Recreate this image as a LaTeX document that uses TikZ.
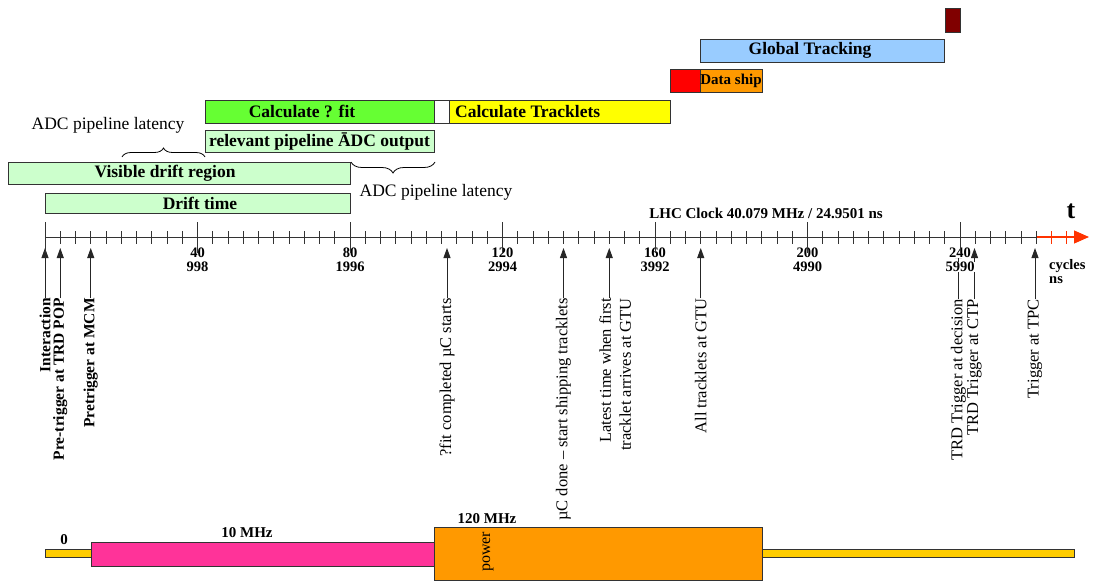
\documentclass[tikz,border=0pt]{standalone}
\usepackage{fontspec}
\setmainfont{Liberation Serif}
\usetikzlibrary{arrows.meta,decorations.pathreplacing}
\definecolor{lgreen}{HTML}{CCFFCC}
\definecolor{fgreen}{HTML}{66FF33}
\definecolor{tyellow}{HTML}{FFFF00}
\definecolor{tred}{HTML}{FF0000}
\definecolor{torange}{HTML}{FF9900}
\definecolor{tblue}{HTML}{99CCFF}
\definecolor{tdark}{HTML}{800000}
\definecolor{tpink}{HTML}{FF3399}
\definecolor{tgold}{HTML}{FFCC00}
\definecolor{edgegray}{HTML}{333333}
\definecolor{axred}{HTML}{FF3300}
\newcommand\barbox[6]{\node[bar,fill=#6,minimum width={#4-#2},minimum height={#5-#3}] (#1) at (#2,#3) {};}
\newcommand\fs[1]{\fontsize{#1}{#1}\selectfont}
\begin{document}
\begin{tikzpicture}[x=1pt,y=-1pt,
 bar/.style={draw=edgegray,line width=0.8pt,inner sep=0pt,outer sep=0pt,anchor=north west},
 blbl/.style={inner sep=0pt,font=\fs{17.5}\bfseries},
 vlblb/.style={rotate=90,anchor=east,inner sep=0pt,font=\fs{15.5}\bfseries},
 vlbl/.style={rotate=90,anchor=east,inner sep=0pt,font=\fs{16.5}},
 evt/.style={-{Triangle[length=10pt,width=7pt]},line width=0.9pt,draw=black!85,fill=black!85},
 tck/.style={line width=0.8pt,draw=black!80},
 tnum/.style={inner sep=0pt,fill=white,anchor=base,text height=10pt,text depth=0pt,font=\fs{14.5}\bfseries},
 lat/.style={inner sep=0pt,font=\fs{17.5}},
 brc/.style={decorate,decoration={brace,amplitude=9pt},line width=0.8pt},
 smallb/.style={inner sep=0pt,font=\fs{15}\bfseries}
]
\useasboundingbox (0,0) rectangle (1096,581);

% ---- activity bars
\barbox{drift}{45}{193}{350}{213}{lgreen}
\barbox{visible}{8}{162}{350}{184}{lgreen}
\barbox{relevant}{205}{130}{434}{152}{lgreen}
\barbox{calcfit}{205}{100}{434}{123}{fgreen}
\barbox{gap}{434}{100}{449}{123}{white}
\barbox{tracklets}{449}{100}{670}{123}{tyellow}
\barbox{redbox}{670}{69}{700}{92}{tred}
\barbox{dataship}{700}{69}{762}{92}{torange}
\barbox{global}{700}{39}{944}{62}{tblue}
\barbox{dark}{945}{8}{960}{32}{tdark}

\node[blbl] (tDrift) at (200,203.5) {Drift time};
\node[blbl] (tVis) at (165,173.5) {Visible drift region};
\node[blbl] (tRel) at (319.5,141.5) {relevant pipeline ĀDC output};
\node[blbl] (tFit) at (302,111.5) {Calculate ? fit};
\node[blbl,anchor=west] (tTrk) at (455,111.5) {Calculate Tracklets};
\node[smallb] (tShip) at (731,80.5) {Data ship};
\node[blbl] (tGlob) at (810,50.5) {Global Tracking};

% ---- braces
\coordinate (b1a) at (122,157);
\coordinate (b1b) at (205,157);
\draw[brc] (b1a) -- (b1b);
\node[lat] (lat1) at (108,125) {ADC pipeline latency};
\coordinate (b2a) at (435,162);
\coordinate (b2b) at (351,162);
\draw[brc,decoration={amplitude=11pt}] (b2a) -- (b2b);
\node[lat] (lat2) at (436,192) {ADC pipeline latency};

% ---- time axis
\coordinate (ax0) at (45,237);
\coordinate (axr) at (1036.25,237);
\coordinate (axtip) at (1089,237);
\draw[line width=0.9pt,draw=black!80] (ax0) -- (axr);
\draw[line width=1.2pt,axred,-{Triangle[length=15pt,width=13pt]}] (axr) -- (axtip);
\foreach \c in {4,8,...,260}{\pgfmathsetmacro\xx{45+\c*3.8125}\draw[tck] (\xx,231)--(\xx,244);}
\foreach \c in {264,268}{\pgfmathsetmacro\xx{45+\c*3.8125}\draw[tck,draw=axred] (\xx,231)--(\xx,244);}

% ---- events
\node[vlblb] (eInt) at (45,298) {Interaction};
\coordinate (pInt) at (45,248);
\draw[evt] (eInt.east) -- (pInt);
\node[vlblb] (ePT) at (60.25,298) {Pre-trigger at TRD POP};
\coordinate (pPT) at (60.25,248);
\draw[evt] (ePT.east) -- (pPT);
\node[vlblb] (eMCM) at (90.75,298) {Pretrigger at MCM};
\coordinate (pMCM) at (90.75,248);
\draw[evt] (eMCM.east) -- (pMCM);
\node[vlbl] (eFit) at (447,298) {?fit completed µC starts};
\coordinate (pFit) at (447,248);
\draw[evt] (eFit.east) -- (pFit);
\node[vlbl] (eDone) at (563.5,298) {µC done – start shipping tracklets};
\coordinate (pDone) at (563.5,248);
\draw[evt] (eDone.east) -- (pDone);
\node[vlbl,anchor=north east,align=right,font=\fontsize{16.5}{20}\selectfont] (eLate) at (599,298) {Latest time when first\\tracklet arrives at GTU};
\coordinate (qLate) at (609.25,298);
\coordinate (pLate) at (609.25,248);
\draw[evt] (qLate) -- (pLate);
\node[vlbl] (eAll) at (700.75,298) {All tracklets at GTU};
\coordinate (pAll) at (700.75,248);
\draw[evt] (eAll.east) -- (pAll);
\node[vlbl] (eDec) at (958.5,299) {TRD Trigger at decision};
\coordinate (pDec) at (958.5,248);
\draw[evt] (eDec.east) -- (pDec);
\node[vlbl] (eCTP) at (974.5,299) {TRD Trigger at CTP};
\coordinate (pCTP) at (974.5,248);
\draw[evt] (eCTP.east) -- (pCTP);
\node[vlbl] (eTPC) at (1035,299) {Trigger at TPC};
\coordinate (pTPC) at (1035,248);
\draw[evt] (eTPC.east) -- (pTPC);

% ---- axis labels
\foreach \c/\ns in {40/998,80/1996,120/2994,160/3992,200/4990,240/5990}{%
  \pgfmathsetmacro\xx{45+\c*3.8125}
  \node[tnum] at (\xx,257.5) {\c};
  \node[tnum] at (\xx,271.5) {\ns};}
\foreach \c in {0,40,...,240}{\pgfmathsetmacro\xx{45+\c*3.8125}\draw[tck] (\xx,222)--(\xx,253);}

\node[font=\fs{15}\bfseries,inner sep=0pt] (lhc) at (766,213) {LHC Clock 40.079 MHz / 24.9501 ns};
\node[font=\fs{26}\bfseries,inner sep=0pt] (tt) at (1071,211) {t};
\node[anchor=north west,align=left,font=\fs{14.5}\bfseries,inner sep=0pt] (cyc) at (1049,259) {cycles\\ns};

% ---- clock frequency bar
\barbox{clk}{45}{549}{1074}{557}{tgold}
\barbox{pinkb}{91}{542}{434}{566}{tpink}
\barbox{orb}{434}{527}{762}{580}{torange}
\node[smallb] (z0) at (64,540) {0};
\node[smallb] (f10) at (247,533) {10 MHz};
\node[smallb] (f120) at (487,518.5) {120 MHz};
\node[rotate=90,inner sep=0pt,font=\fs{16}] (pw) at (488,552) {power};
\end{tikzpicture}
\end{document}
